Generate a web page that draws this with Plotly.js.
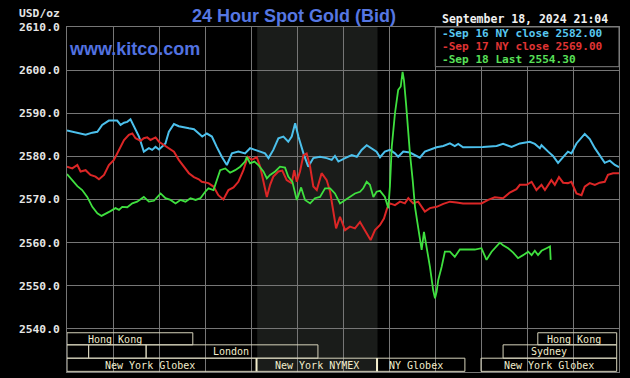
<!DOCTYPE html>
<html>
<head>
<meta charset="utf-8">
<script src="https://cdn.plot.ly/plotly-3.0.1.min.js"></script>
<style>
html,body{margin:0;padding:0;background:#000;}
#chart{width:630px;height:378px;}
</style>
</head>
<body>
<div id="chart"></div>
<script>
// ---- data (time in hours, New York time; price USD/oz) ----
const sep16Hours = [0,0.37,0.81,1.10,1.32,1.53,1.82,2.18,2.33,2.48,2.62,2.76,2.91,3.13,3.34,3.56,3.70,3.85,4.00,4.14,4.28,4.43,4.65,4.86,5.08,5.30,5.52,5.66,5.88,6.08,6.30,6.51,6.73,6.95,7.17,7.45,7.74,7.96,8.18,8.39,8.61,8.76,8.97,9.19,9.41,9.62,9.77,9.92,10.06,10.28,10.49,10.71,11.00,11.29,11.51,11.65,11.80,12.09,12.38,12.60,12.81,13.03,13.25,13.46,13.61,13.82,14.04,14.26,14.40,14.62,14.91,15.13,15.34,15.56,15.78,16.07,16.36,16.65,16.86,17.01,17.22,17.52,18.09,18.68,18.96,19.33,19.69,20.12,20.34,20.56,20.63,20.92,21.13,21.35,21.57,21.78,21.93,22.15,22.51,22.73,22.95,23.16,23.38,23.60,23.82,24.0];
const sep16Price = [2586.0,2585.6,2585.0,2585.5,2585.7,2587.3,2588.3,2588.3,2587.3,2587.8,2588.0,2588.6,2586.9,2584.6,2581.1,2581.9,2581.5,2582.2,2581.6,2582.2,2583.0,2585.7,2587.5,2587.0,2586.7,2586.5,2586.3,2585.7,2584.6,2585.3,2584.6,2582.2,2579.9,2578.0,2580.7,2581.1,2580.7,2581.9,2581.5,2581.1,2580.7,2579.6,2581.5,2584.2,2584.6,2583.4,2584.6,2587.7,2584.6,2580.7,2577.6,2579.6,2579.9,2579.6,2579.2,2580.1,2578.8,2579.6,2580.3,2579.9,2581.5,2582.6,2581.9,2581.1,2579.8,2581.1,2581.5,2580.7,2579.9,2581.1,2580.9,2580.3,2579.7,2581.1,2581.6,2582.1,2582.4,2583.0,2582.4,2582.9,2582.1,2582.1,2582.2,2582.4,2582.9,2582.2,2583.0,2583.4,2582.9,2581.9,2582.6,2581.1,2580.1,2578.5,2579.9,2581.1,2580.7,2583.0,2585.2,2584.0,2581.9,2580.3,2578.5,2579.0,2578.0,2577.5];

const sep17Hours = [0,0.23,0.45,0.59,0.81,1.02,1.24,1.39,1.61,1.82,2.04,2.26,2.48,2.69,2.84,2.98,3.20,3.34,3.49,3.63,3.85,4.00,4.21,4.43,4.65,4.86,5.08,5.30,5.52,5.73,5.86,6.15,6.37,6.58,6.80,7.02,7.24,7.45,7.67,7.86,8.03,8.25,8.40,8.54,8.69,8.83,8.97,9.19,9.36,9.55,9.77,9.88,9.99,10.13,10.28,10.42,10.57,10.71,10.86,11.07,11.29,11.44,11.58,11.70,11.87,12.09,12.30,12.52,12.74,12.96,13.20,13.39,13.61,13.78,13.92,14.04,14.26,14.48,14.69,14.84,15.05,15.27,15.56,15.78,16.07,16.36,16.65,16.94,17.22,17.52,18.02,18.31,18.60,18.96,19.25,19.54,19.69,19.98,20.20,20.41,20.63,20.78,21.06,21.21,21.39,21.57,21.78,21.93,22.15,22.37,22.51,22.73,22.95,23.16,23.38,23.52,23.74,24.0];
const sep17Price = [2577.6,2577.2,2578.0,2576.5,2576.8,2575.7,2575.3,2574.7,2575.7,2578.0,2579.2,2581.5,2583.8,2585.0,2585.3,2584.2,2583.6,2584.2,2584.4,2583.8,2584.4,2583.4,2582.6,2581.9,2581.1,2579.2,2577.6,2576.1,2575.2,2574.7,2574.1,2573.8,2573.0,2571.0,2570.0,2572.2,2572.8,2574.1,2576.8,2579.9,2579.2,2579.8,2577.6,2574.5,2570.6,2573.4,2575.3,2576.5,2576.7,2574.5,2573.8,2576.8,2574.1,2576.5,2580.3,2580.7,2577.6,2573.0,2572.2,2576.1,2574.5,2571.8,2567.6,2563.3,2566.0,2562.9,2563.7,2563.3,2564.8,2562.9,2560.6,2562.9,2564.1,2565.6,2568.0,2569.1,2568.7,2569.5,2569.1,2570.3,2569.1,2569.5,2567.2,2568.0,2568.3,2569.0,2569.5,2569.3,2569.1,2569.1,2569.1,2569.9,2570.5,2570.3,2571.6,2572.4,2573.4,2573.4,2574.1,2572.2,2573.4,2572.2,2574.5,2573.4,2575.2,2573.9,2573.8,2574.1,2571.4,2571.0,2573.0,2573.8,2573.4,2573.9,2574.1,2575.7,2576.1,2576.1];

const sep18Hours = [0,0.16,0.45,0.66,0.88,1.10,1.32,1.50,1.68,1.89,2.11,2.26,2.40,2.62,2.84,3.05,3.34,3.56,3.78,4.07,4.28,4.50,4.72,4.93,5.15,5.37,5.59,5.80,6.01,6.15,6.37,6.51,6.66,6.88,7.09,7.31,7.53,7.74,7.82,7.96,8.15,8.32,8.54,8.69,8.83,9.05,9.26,9.48,9.62,9.80,9.99,10.18,10.35,10.57,10.78,11.00,11.22,11.44,11.65,11.87,12.09,12.30,12.52,12.74,12.88,13.03,13.17,13.32,13.46,13.61,13.82,13.97,14.04,14.12,14.26,14.40,14.51,14.59,14.65,14.74,14.84,14.91,15.03,15.13,15.23,15.34,15.42,15.52,15.64,15.78,15.92,16.00,16.07,16.14,16.29,16.43,16.65,16.86,17.08,17.37,17.73,18.02,18.24,18.46,18.68,18.82,18.96,19.18,19.40,19.61,19.83,20.05,20.20,20.34,20.48,20.63,20.85,21.00,21.03];
const sep18Price = [2575.9,2574.9,2573.1,2572.2,2570.6,2568.3,2566.8,2566.2,2566.8,2567.3,2568.0,2567.6,2568.3,2568.2,2569.1,2569.5,2570.6,2569.5,2569.7,2571.4,2570.3,2569.9,2569.1,2569.9,2569.5,2570.3,2569.9,2570.3,2571.8,2572.6,2572.2,2574.5,2576.8,2577.2,2576.2,2576.8,2577.6,2578.8,2579.9,2578.4,2578.8,2578.0,2576.5,2574.9,2575.7,2576.5,2577.6,2577.4,2575.3,2574.1,2569.9,2572.8,2569.9,2569.1,2570.3,2570.6,2572.6,2572.6,2571.4,2569.1,2569.9,2570.6,2571.4,2571.8,2572.6,2574.1,2573.4,2570.6,2571.8,2572.0,2570.6,2568.0,2573.0,2582.2,2590.0,2595.4,2596.2,2599.6,2597.7,2592.3,2585.3,2580.7,2574.5,2568.3,2564.8,2560.6,2558.3,2562.5,2559.1,2554.4,2549.0,2547.1,2548.6,2551.3,2554.4,2557.9,2557.9,2556.7,2558.4,2558.4,2558.4,2558.7,2556.0,2557.9,2559.2,2560.0,2559.4,2558.7,2557.7,2556.4,2557.1,2557.9,2557.1,2558.1,2557.1,2558.1,2558.7,2559.1,2556.0];

const legendLabels = ['Sep 16 NY close 2582.00', 'Sep 17 NY close 2569.00', 'Sep 18 Last 2554.30'];
const yTicks = [2530,2540,2550,2560,2570,2580,2590,2600,2610];

// trading sessions (hours)
const sessionNames = ['Hong Kong','','','London','New York Globex','New York NYMEX','NY Globex','Hong Kong','Sydney','New York Globex'];
const sessionStart = [0,0,0.94,3.44,0,8.24,13.48,20.47,18.96,18.0];
const sessionEnd   = [5.47,0.94,3.44,10.91,8.24,13.48,17.30,23.9,23.9,23.9];
const sessionRow   = [1,2,2,2,3,3,3,1,2,3];
const sessionLabelAt = [2.10,null,null,7.15,3.63,10.88,15.18,22.04,20.97,20.95];
const nymexStart = 8.27, nymexEnd = 13.5;

// ---- styling ----
const C_BLUE = '#4cc0ec', C_RED = '#dc2626', C_GREEN = '#3fe03f';
const T_BLUE = '#58c8f0', T_RED = '#e03434', T_GREEN = '#58e058';
const GRID = '#767676';
const CREAM = '#f2edcc', BOXLINE = '#d6d3bb';
const MONO = 'DejaVu Sans Mono, monospace';
const SANS = 'Liberation Sans, Arial, sans-serif';
const M = {l:67, r:11, t:27, b:6};
const PW = 630 - M.l - M.r, PH = 378 - M.t - M.b;
const px = x => (x - M.l) / PW;
const py = y => (378 - M.b - y) / PH;

const rowBounds = {1:[2536.3,2539.1], 2:[2533.2,2536.3], 3:[2530.15,2533.2]};
const rowMid = {1:2537.6, 2:2534.7, 3:2531.6};

const traces = [
  {x: sep16Hours, y: sep16Price, mode:'lines', line:{color:C_BLUE, width:2}, hoverinfo:'skip'},
  {x: sep17Hours, y: sep17Price, mode:'lines', line:{color:C_RED, width:2}, hoverinfo:'skip'},
  {x: sep18Hours, y: sep18Price, mode:'lines', line:{color:C_GREEN, width:1.8}, hoverinfo:'skip'}
];

const shapes = [
  {type:'rect', xref:'x', yref:'paper', x0:nymexStart, x1:nymexEnd, y0:0, y1:1,
   fillcolor:'#1a1c1a', line:{width:0}, layer:'below'},
  {type:'rect', xref:'paper', yref:'paper', x0:px(435.3), x1:1, y0:py(66.7), y1:1,
   fillcolor:'#000', line:{color:'#808080', width:1}, layer:'above'}
];
sessionNames.forEach((n,i) => {
  const rb = rowBounds[sessionRow[i]];
  shapes.push({type:'rect', xref:'x', yref:'y', x0:sessionStart[i], x1:sessionEnd[i], y0:rb[0], y1:rb[1],
    fillcolor:'rgba(0,0,0,0)', line:{color:BOXLINE, width:1}, layer:'above'});
});
[8.24, 13.48].forEach(xv => shapes.push({type:'line', xref:'x', yref:'y', x0:xv, x1:xv,
  y0:rowBounds[3][0], y1:rowBounds[3][1], line:{color:CREAM, width:2}, layer:'above'}));

const annotations = [
  {text:'24 Hour Spot Gold (Bid)', xref:'paper', yref:'paper', x:px(294), y:py(16), xanchor:'center', yanchor:'middle',
   showarrow:false, font:{family:SANS, size:18, color:'#5677e2', weight:'bold'}},
  {text:'www.kitco.com', xref:'paper', yref:'paper', x:px(67), y:py(48.5), xanchor:'left', yanchor:'middle',
   showarrow:false, font:{family:SANS, size:18, color:'#5272e0', weight:'bold'}},
  {text:'USD/oz', xref:'paper', yref:'paper', x:px(62), y:py(13.5), xanchor:'right', yanchor:'middle',
   showarrow:false, font:{family:MONO, size:11.3, color:'#e6e6e6', weight:'bold'}},
  {text:'September 18, 2024 21:04', xref:'paper', yref:'paper', x:px(440), y:py(19.5), xanchor:'left', yanchor:'middle',
   showarrow:false, font:{family:MONO, size:11.5, color:'#f0f0f0', weight:'bold'}}
];
const legendColors = [T_BLUE, T_RED, T_GREEN];
const legendY = [33.5, 46.5, 59.5];
legendLabels.forEach((t,i) => annotations.push({text:'-' + t, xref:'paper', yref:'paper', x:px(440.5), y:py(legendY[i]),
  xanchor:'left', yanchor:'middle', showarrow:false, borderpad:0,
  font:{family:MONO, size:11.1, color:legendColors[i], weight:'bold'}}));
sessionNames.forEach((n,i) => {
  if (!n) return;
  annotations.push({text:n, xref:'x', yref:'y', x:sessionLabelAt[i], y:rowMid[sessionRow[i]], xanchor:'center', yanchor:'middle',
    showarrow:false, font:{family:MONO, size:10, color:CREAM}});
});

const layout = {
  width:630, height:378, margin:M,
  paper_bgcolor:'#000', plot_bgcolor:'#000',
  showlegend:false,
  xaxis:{range:[0,24], dtick:2, tick0:0, showgrid:true, gridcolor:GRID, gridwidth:1, zeroline:false,
         showticklabels:false, ticks:'', showline:true, mirror:true, linecolor:GRID, linewidth:1, fixedrange:true},
  yaxis:{range:[2530,2610], tickvals:yTicks, ticktext:yTicks.map(v=>v.toFixed(1)), showgrid:true, gridcolor:GRID, gridwidth:1,
         zeroline:false, ticks:'', ticklabelstandoff:4, showline:true, mirror:true, linecolor:GRID, linewidth:1,
         tickfont:{family:MONO, size:11.3, color:'#e6e6e6', weight:'bold'}, fixedrange:true},
  shapes:shapes,
  annotations:annotations
};
Plotly.newPlot('chart', traces, layout, {staticPlot:true, displayModeBar:false});
</script>
</body>
</html>
